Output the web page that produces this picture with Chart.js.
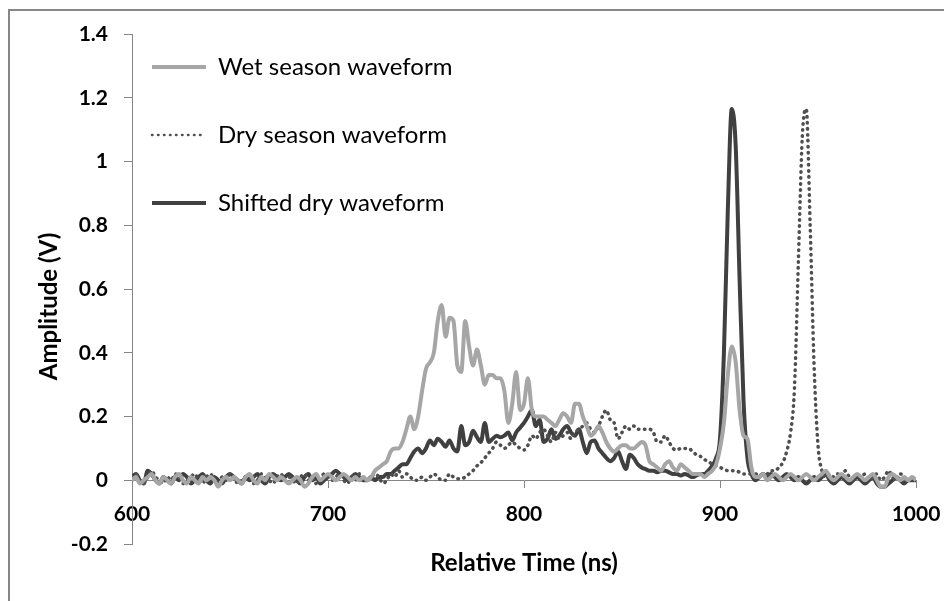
<!DOCTYPE html>
<html>
<head>
<meta charset="utf-8">
<script src="https://cdn.jsdelivr.net/npm/chart.js@4.4.1/dist/chart.umd.min.js"></script>
<style>
  html, body { margin: 0; padding: 0; background: #fff; }
  canvas { display: block; }
</style>
</head>
<body>
<canvas id="waveform_graph" width="944" height="601"></canvas>
<script>
// sample times (ns), one every 2 ns from 600 to 1000
const sampleStep = 2;
const times = Array.from({ length: 201 }, (_, i) => 600 + i * sampleStep);

const wetSeason = [
    0.00, 0.01, -0.01, 0.00, 0.01, 0.02, 0.00, -0.01, 0.01, 0.00,     // 600
    -0.01, 0.01, 0.02, 0.00, -0.01, 0.01, 0.00, -0.01, 0.01, 0.00,    // 620
    0.01, 0.00, -0.02, 0.00, 0.01, 0.00, 0.01, 0.00, -0.01, 0.01,     // 640
    0.02, 0.00, -0.01, 0.01, 0.00, 0.02, 0.01, 0.00, 0.01, 0.00,      // 660
    -0.01, 0.00, 0.01, 0.00, -0.02, -0.01, 0.01, 0.02, 0.00, 0.01,    // 680
    0.02, 0.01, 0.00, 0.01, 0.02, 0.01, 0.00, 0.01, 0.00, 0.01,       // 700
    0.00, 0.01, 0.03, 0.04, 0.05, 0.06, 0.09, 0.10, 0.10, 0.12,       // 720
    0.16, 0.20, 0.16, 0.20, 0.28, 0.35, 0.37, 0.40, 0.50, 0.55,       // 740
    0.45, 0.51, 0.50, 0.36, 0.34, 0.50, 0.42, 0.36, 0.41, 0.36,       // 760
    0.30, 0.33, 0.33, 0.32, 0.32, 0.28, 0.18, 0.24, 0.34, 0.22,       // 780
    0.24, 0.32, 0.22, 0.20, 0.20, 0.20, 0.19, 0.18, 0.17, 0.19,       // 800
    0.21, 0.20, 0.18, 0.24, 0.24, 0.20, 0.17, 0.14, 0.15, 0.17,       // 820
    0.15, 0.12, 0.10, 0.09, 0.10, 0.11, 0.11, 0.10, 0.10, 0.11,       // 840
    0.12, 0.11, 0.06, 0.05, 0.04, 0.03, 0.05, 0.06, 0.04, 0.03,       // 860
    0.05, 0.04, 0.03, 0.02, 0.02, 0.02, 0.01, 0.02, 0.03, 0.05,       // 880
    0.10, 0.18, 0.33, 0.42, 0.37, 0.22, 0.14, 0.13, 0.04, 0.01,       // 900
    0.01, 0.02, 0.00, 0.01, 0.02, 0.01, 0.00, 0.01, 0.02, 0.01,       // 920
    0.00, 0.01, 0.02, 0.01, 0.00, 0.01, 0.02, 0.03, 0.01, 0.00,       // 940
    0.01, 0.02, 0.01, 0.00, 0.01, 0.02, 0.01, 0.00, 0.01, 0.02,       // 960
    0.00, -0.02, -0.02, 0.01, 0.02, 0.01, 0.00, 0.01, 0.00, 0.01,     // 980
    0.00                                                              // 1000
];

const drySeason = [
    0.01, 0.02, 0.00, -0.01, 0.01, 0.03, 0.01, 0.00, -0.01, 0.01,     // 600
    0.00, 0.02, 0.01, -0.01, 0.00, 0.01, 0.02, 0.00, -0.01, 0.01,     // 620
    0.02, 0.00, -0.01, 0.01, 0.00, 0.02, 0.01, -0.01, 0.00, 0.01,     // 640
    0.01, -0.01, 0.00, 0.02, 0.01, 0.00, -0.01, 0.01, 0.02, 0.00,     // 660
    0.01, 0.00, -0.01, 0.01, 0.02, 0.00, 0.01, -0.01, 0.00, 0.02,     // 680
    0.01, 0.00, 0.01, 0.02, 0.00, -0.01, 0.01, 0.00, 0.02, 0.01,      // 700
    0.00, 0.01, 0.02, 0.01, -0.01, 0.00, 0.02, 0.01, 0.03, 0.01,      // 720
    0.02, 0.01, 0.00, 0.00, 0.01, 0.00, 0.01, 0.02, 0.01, 0.00,       // 740
    0.00, 0.02, 0.01, 0.005, 0.005, 0.01, 0.02, 0.03, 0.045, 0.055,   // 760
    0.07, 0.085, 0.10, 0.12, 0.11, 0.10, 0.11, 0.12, 0.11, 0.10,      // 780
    0.095, 0.11, 0.14, 0.13, 0.15, 0.16, 0.14, 0.12, 0.15, 0.13,      // 800
    0.14, 0.15, 0.13, 0.15, 0.16, 0.17, 0.18, 0.16, 0.15, 0.17,       // 820
    0.20, 0.22, 0.19, 0.18, 0.13, 0.15, 0.17, 0.16, 0.17, 0.16,       // 840
    0.16, 0.16, 0.16, 0.15, 0.12, 0.12, 0.14, 0.12, 0.10, 0.095,      // 860
    0.10, 0.10, 0.10, 0.09, 0.08, 0.075, 0.065, 0.06, 0.05, 0.045,    // 880
    0.04, 0.035, 0.03, 0.03, 0.03, 0.025, 0.02, 0.02, 0.02, 0.02,     // 900
    0.015, 0.02, 0.02, 0.03, 0.03, 0.04, 0.055, 0.09, 0.15, 0.29,     // 920
    0.69, 1.08, 1.165, 0.80, 0.36, 0.11, 0.03, 0.01, 0.02, 0.01,      // 940
    0.02, 0.01, 0.03, 0.01, 0.00, 0.02, 0.01, 0.02, 0.00, 0.01,       // 960
    0.02, 0.00, 0.01, 0.03, 0.01, 0.00, 0.02, 0.01, 0.00, 0.01,       // 980
    0.00                                                              // 1000
];

const shiftedDry = [
    0.01, 0.02, 0.00, -0.01, 0.03, 0.02, 0.00, -0.01, 0.01, 0.00,     // 600
    -0.01, 0.01, 0.00, 0.02, 0.01, -0.01, 0.00, 0.01, 0.02, 0.00,     // 620
    -0.01, 0.01, 0.00, -0.01, 0.01, 0.02, 0.01, 0.00, -0.01, 0.01,    // 640
    0.00, 0.01, 0.02, 0.00, -0.01, 0.01, 0.02, 0.01, 0.00, 0.01,      // 660
    0.02, 0.01, 0.00, -0.01, 0.01, 0.02, 0.00, 0.01, -0.01, 0.00,     // 680
    0.01, 0.02, 0.03, 0.02, 0.01, 0.00, 0.01, 0.02, 0.01, 0.00,       // 700
    0.00, 0.01, 0.00, 0.01, 0.01, 0.02, 0.02, 0.03, 0.04, 0.05,       // 720
    0.05, 0.07, 0.09, 0.10, 0.085, 0.10, 0.125, 0.11, 0.13, 0.12,     // 740
    0.105, 0.125, 0.10, 0.09, 0.17, 0.11, 0.12, 0.155, 0.135, 0.12,   // 760
    0.18, 0.12, 0.13, 0.14, 0.135, 0.14, 0.15, 0.125, 0.15, 0.165,    // 780
    0.18, 0.20, 0.22, 0.17, 0.19, 0.12, 0.13, 0.16, 0.13, 0.14,       // 800
    0.16, 0.17, 0.15, 0.14, 0.16, 0.12, 0.085, 0.12, 0.125, 0.10,     // 820
    0.085, 0.07, 0.06, 0.07, 0.09, 0.06, 0.035, 0.08, 0.07, 0.05,     // 840
    0.04, 0.035, 0.03, 0.03, 0.025, 0.03, 0.03, 0.025, 0.02, 0.02,    // 860
    0.015, 0.02, 0.015, 0.01, 0.015, 0.02, 0.02, 0.03, 0.045, 0.07,   // 880
    0.13, 0.40, 0.85, 1.165, 1.05, 0.63, 0.25, 0.07, 0.02, 0.00,      // 900
    0.01, 0.02, 0.01, 0.02, 0.01, 0.00, 0.01, 0.02, 0.01, 0.00,       // 920
    0.01, 0.00, -0.01, 0.00, 0.01, 0.00, 0.01, 0.02, 0.00, -0.01,     // 940
    0.00, 0.01, 0.00, -0.01, 0.00, 0.01, 0.00, -0.01, 0.00, 0.01,     // 960
    -0.01, -0.02, -0.02, -0.01, 0.00, 0.01, 0.00, -0.01, 0.00, 0.00,  // 980
    0.00                                                              // 1000
];

const seriesNames = ['Wet season waveform', 'Dry season waveform', 'Shifted dry waveform'];

const fontFamily = 'Lato, "Open Sans", sans-serif';

function points(values) {
    return values.map((v, i) => ({ x: times[i], y: v }));
}

// grey outline round the whole chart plus moving the legend into the plot corner
const frame = {
    id: 'frame',
    beforeDraw(chart) {
        const ctx = chart.ctx;
        ctx.save();
        ctx.fillStyle = '#ffffff';
        ctx.fillRect(0, 0, chart.width, chart.height);
        ctx.strokeStyle = '#878787';
        ctx.lineWidth = 2;
        ctx.strokeRect(9, 10, chart.width, chart.height);
        ctx.restore();
    },
    afterLayout(chart) {
        chart.legend.left = chart.chartArea.left - 24;
        chart.legend.top = chart.chartArea.top - 23;
    }
};

const ctx = document.getElementById('waveform_graph').getContext('2d');
const chart = new Chart(ctx, {
    type: 'line',
    data: {
        datasets: [
            {
                label: seriesNames[0],
                data: points(wetSeason),
                borderColor: '#a6a6a6',
                backgroundColor: '#a6a6a6',
                borderWidth: 4,
                pointRadius: 0,
                cubicInterpolationMode: 'monotone',
            },
            {
                label: seriesNames[1],
                data: points(drySeason),
                borderColor: '#4f4f4f',
                backgroundColor: '#4f4f4f',
                borderWidth: 3.5,
                borderDash: [0.5, 5.5],
                borderCapStyle: 'round',
                pointRadius: 0,
                cubicInterpolationMode: 'monotone',
            },
            {
                label: seriesNames[2],
                data: points(shiftedDry),
                borderColor: '#404040',
                backgroundColor: '#404040',
                borderWidth: 4,
                pointRadius: 0,
                cubicInterpolationMode: 'monotone',
            }
        ]
    },
    options: {
        responsive: false,
        animation: false,
        layout: {
            padding: { top: 34, right: 28, bottom: 0, left: 0 }
        },
        scales: {
            x: {
                type: 'linear',
                position: { y: 0 },
                min: 600,
                max: 1000,
                ticks: {
                    stepSize: 100,
                    padding: 14,
                    color: '#000',
                    maxRotation: 0,
                    font: { family: fontFamily, size: 21, weight: 'bold' },
                    callback: value => String(value)
                },
                grid: { drawOnChartArea: false, tickLength: 7, color: '#868686' },
                border: { color: '#868686' },
                afterFit(scale) {
                    scale.height = 4;
                    scale.paddingLeft = 0;
                    scale.paddingRight = 0;
                }
            },
            y: {
                min: -0.2,
                max: 1.4,
                ticks: {
                    stepSize: 0.2,
                    padding: 16,
                    color: '#000',
                    font: { family: fontFamily, size: 21, weight: 'bold' },
                    callback: value => String(Number(value.toFixed(1)))
                },
                grid: { drawOnChartArea: false, tickLength: 8, color: '#868686' },
                border: { color: '#868686' },
                title: {
                    display: true,
                    text: 'Amplitude (V)      ',
                    color: '#000',
                    padding: { top: 34.6, bottom: 0 },
                    font: { family: fontFamily, size: 24, weight: 'bold' }
                },
                afterFit(scale) { scale.width = 132; }
            }
        },
        plugins: {
            legend: {
                position: 'chartArea',
                align: 'start',
                labels: {
                    usePointStyle: true,
                    pointStyle: 'line',
                    pointStyleWidth: 54,
                    padding: 44,
                    color: '#000',
                    font: { family: fontFamily, size: 24 },
                    generateLabels(chart) {
                        const items = Chart.defaults.plugins.legend.labels.generateLabels(chart);
                        items.forEach(item => {
                            const ds = chart.data.datasets[item.datasetIndex];
                            item.lineDash = ds.borderDash || [];
                            item.lineCap = ds.borderCapStyle || 'butt';
                            item.lineWidth = ds.borderDash ? 2.5 : ds.borderWidth;
                        });
                        return items;
                    }
                }
            },
            title: {
                display: true,
                position: 'bottom',
                fullSize: false,
                text: 'Relative Time (ns)',
                color: '#000',
                padding: { top: 4.6, bottom: 23.6 },
                font: { family: fontFamily, size: 24, weight: 'bold' }
            },
            tooltip: { enabled: false }
        }
    },
    plugins: [frame]
});
</script>
</body>
</html>
